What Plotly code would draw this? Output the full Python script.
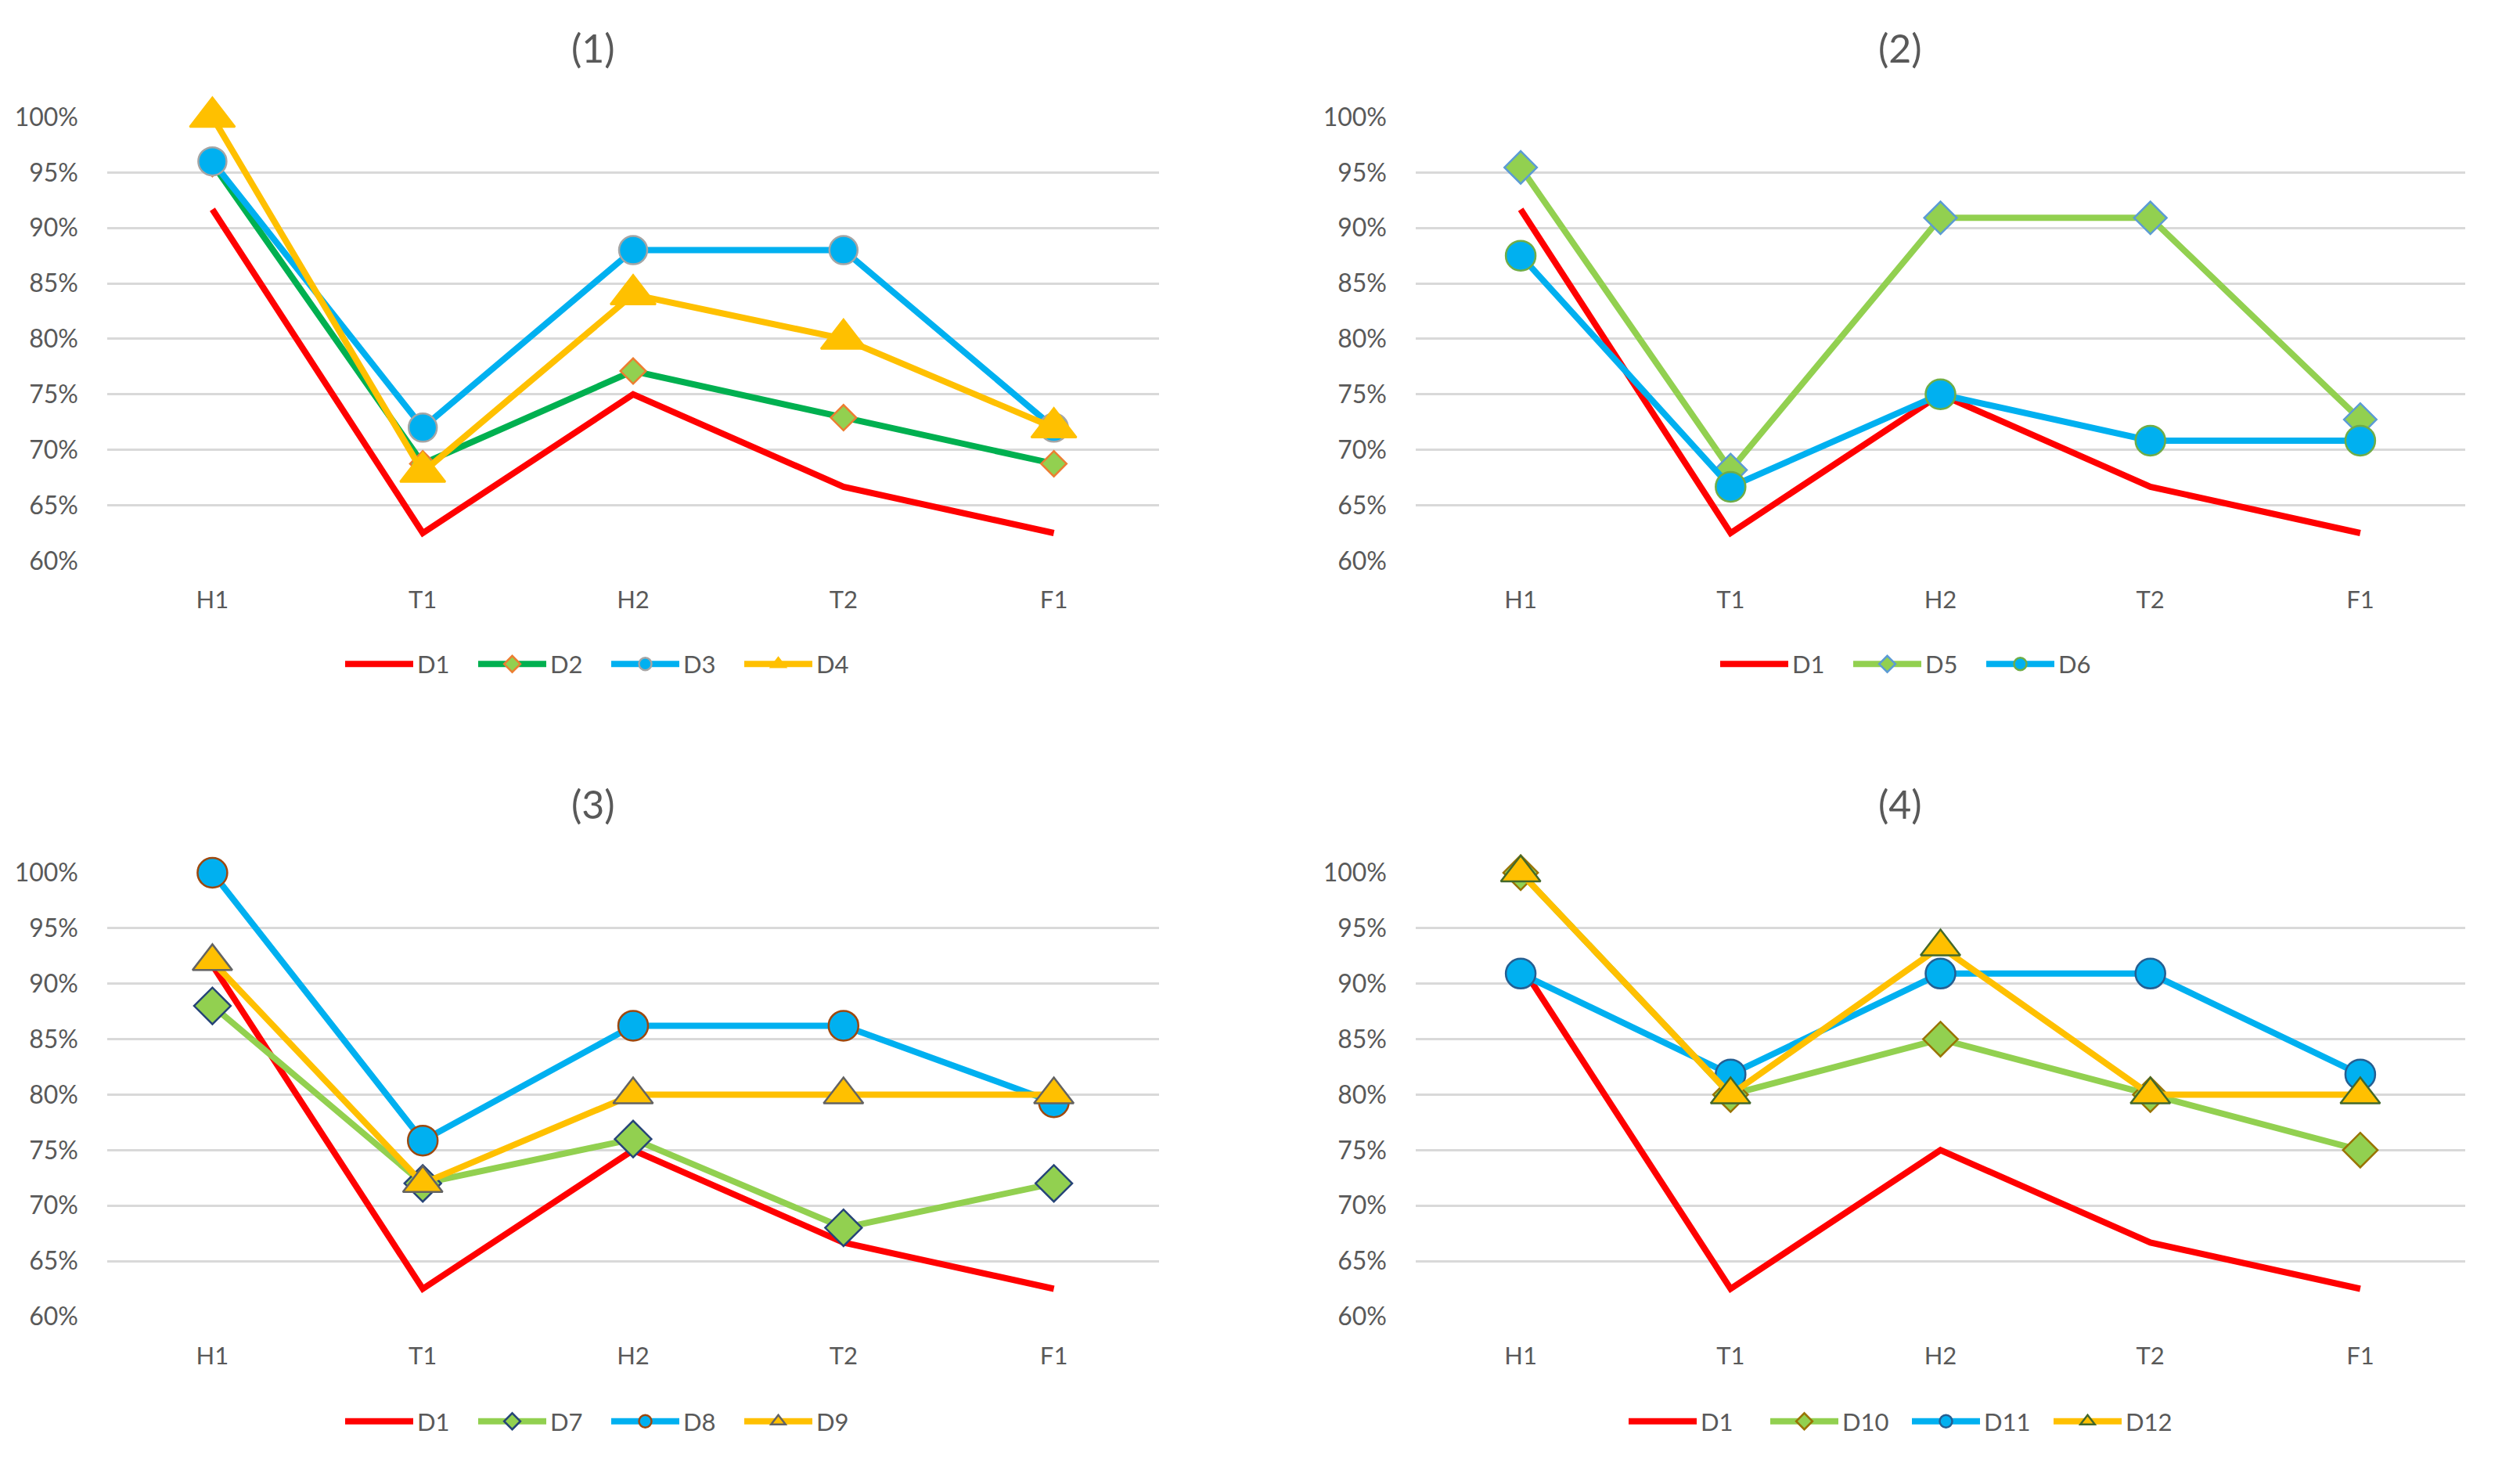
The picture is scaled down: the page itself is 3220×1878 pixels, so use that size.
import plotly.graph_objects as go

W, H = 3220, 1878

categories = ["H1", "T1", "H2", "T2", "F1"]
tick_vals = [0.60, 0.65, 0.70, 0.75, 0.80, 0.85, 0.90, 0.95, 1.00]
tick_text = ["60%", "65%", "70%", "75%", "80%", "85%", "90%", "95%", "100%"]
titles = ["(1)", "(2)", "(3)", "(4)"]

D1 = [0.9167, 0.625, 0.75, 0.6667, 0.625]
D2 = [0.958, 0.6875, 0.771, 0.729, 0.6875]
D3 = [0.96, 0.72, 0.88, 0.88, 0.72]
D4 = [1.00, 0.68, 0.84, 0.80, 0.72]
D5 = [0.9545, 0.6818, 0.9091, 0.9091, 0.7273]
D6 = [0.875, 0.6667, 0.75, 0.7083, 0.7083]
D7 = [0.88, 0.72, 0.76, 0.68, 0.72]
D8 = [1.00, 0.7586, 0.8621, 0.8621, 0.7931]
D9 = [0.92, 0.72, 0.80, 0.80, 0.80]
D10 = [1.00, 0.80, 0.85, 0.80, 0.75]
D11 = [0.9091, 0.8182, 0.9091, 0.9091, 0.8182]
D12 = [1.00, 0.80, 0.9333, 0.80, 0.80]

RED = "#FF0000"
GREEN = "#00B050"
BLUE = "#00B0F0"
YELLOW = "#FFC000"
LGREEN = "#92D050"

# (name, values, line color, symbol, size, fill, edge)
panels = [
    [("D1", D1, RED, None, 0, None, None),
     ("D2", D2, GREEN, "diamond", 25, LGREEN, "#ED7D31"),
     ("D3", D3, BLUE, "circle", 36, BLUE, "#A5A5A5"),
     ("D4", D4, YELLOW, "triangle-up", 50, YELLOW, YELLOW)],
    [("D1", D1, RED, None, 0, None, None),
     ("D5", D5, LGREEN, "diamond", 32, LGREEN, "#5B9BD5"),
     ("D6", D6, BLUE, "circle", 38, BLUE, "#70AD47")],
    [("D1", D1, RED, None, 0, None, None),
     ("D7", D7, LGREEN, "diamond", 36, LGREEN, "#264478"),
     ("D8", D8, BLUE, "circle", 38, BLUE, "#9E480E"),
     ("D9", D9, YELLOW, "triangle-up", 44, YELLOW, "#636363")],
    [("D1", D1, RED, None, 0, None, None),
     ("D10", D10, LGREEN, "diamond", 34, LGREEN, "#997300"),
     ("D11", D11, BLUE, "circle", 38, BLUE, "#255E91"),
     ("D12", D12, YELLOW, "triangle-up", 44, YELLOW, "#43682B")],
]

FONT = "Lato"
GRAY = "#595959"

# pixel layout of each panel
col_x = [(129, 1473), (1801, 3142)]
row_y = [(123, 702), (1109, 1688)]
title_y = [33, 1019]
legend_y = [837, 1825]
title_x = [750, 2420]
legend_xs = [768, 2440, 768, 2430]
entry_w = [68, 68, 68, 79]

fig = go.Figure()
layout = dict(
    width=W, height=H, margin=dict(l=0, r=0, t=0, b=0),
    paper_bgcolor="white", plot_bgcolor="white",
    font=dict(family=FONT, color=GRAY, size=31),
    annotations=[],
)

for i, series in enumerate(panels):
    r, c = divmod(i, 2)
    xl, xr = col_x[c]
    yt, yb = row_y[r]
    n = "" if i == 0 else str(i + 1)
    xa, ya = "x" + n, "y" + n
    lg = "legend" + n
    for name, vals, lc, sym, sz, fill, edge in series:
        if sym is None:
            tr = go.Scatter(x=categories, y=vals, name=name, mode="lines",
                            line=dict(color=lc, width=8), legend=lg,
                            xaxis=xa, yaxis=ya, cliponaxis=False)
        else:
            tr = go.Scatter(x=categories, y=vals, name=name, mode="lines+markers",
                            line=dict(color=lc, width=8),
                            marker=dict(symbol=sym, size=sz, color=fill,
                                        line=dict(color=edge, width=2.5)),
                            legend=lg, xaxis=xa, yaxis=ya, cliponaxis=False)
        fig.add_trace(tr)
    layout["xaxis" + n] = dict(
        domain=[xl / W, xr / W], anchor=ya, type="category",
        range=[-0.5, 4.5], showgrid=False, zeroline=False, showline=False,
        ticks="", ticklabelstandoff=29, tickfont=dict(size=31, color=GRAY),
        fixedrange=True,
    )
    layout["yaxis" + n] = dict(
        domain=[1 - yb / H, 1 - yt / H], anchor=xa, range=[0.6, 1.0],
        tickvals=tick_vals, ticktext=tick_text, showgrid=True,
        gridcolor="#D9D9D9", gridwidth=2.5, zeroline=False, showline=False,
        ticks="", ticklabelstandoff=36, tickfont=dict(size=32, color=GRAY),
        fixedrange=True,
    )
    layout[lg] = dict(
        orientation="h", x=legend_xs[i] / W, xanchor="center",
        y=1 - legend_y[r] / H, yanchor="middle", itemwidth=87,
        entrywidth=entry_w[i], entrywidthmode="pixels",
        font=dict(size=31, color=GRAY), bgcolor="rgba(0,0,0,0)",
        traceorder="normal",
    )
    layout["annotations"].append(dict(
        text=titles[i], x=title_x[c] / W, y=1 - title_y[r] / H,
        xref="paper", yref="paper", showarrow=False,
        font=dict(size=50, color=GRAY, family=FONT),
        xanchor="center", yanchor="middle",
    ))

fig.update_layout(**layout)
fig.write_html("out.html")
